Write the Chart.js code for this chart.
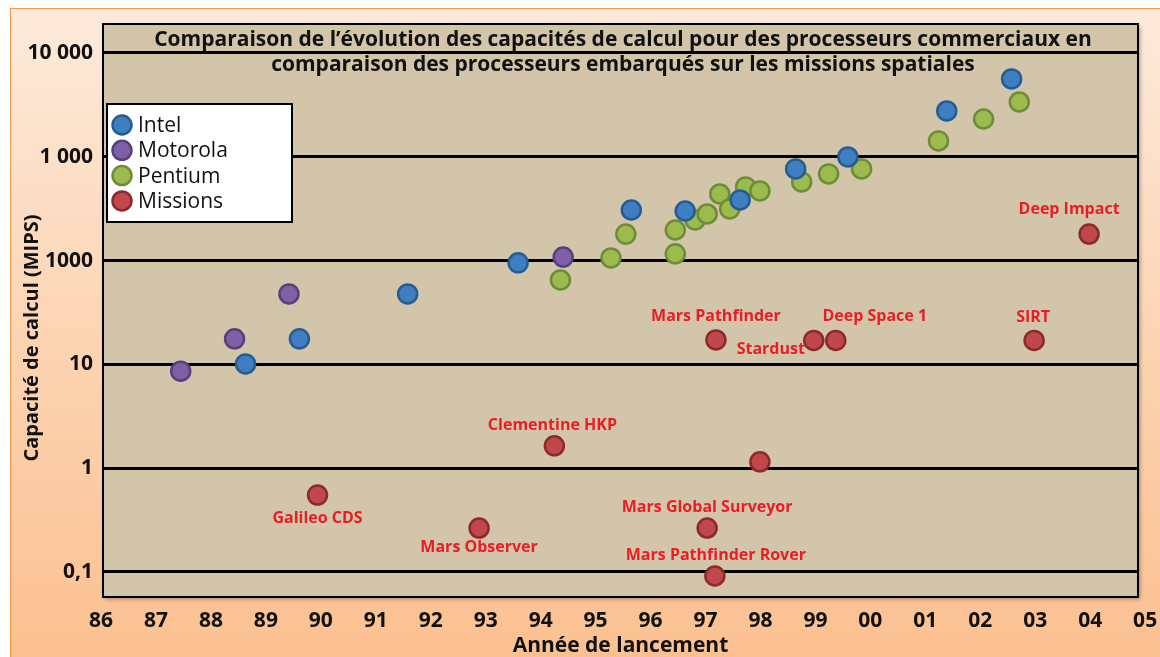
<!DOCTYPE html>
<html>
<head>
<meta charset="utf-8">
<script src="https://cdn.jsdelivr.net/npm/chart.js@4.4.0/dist/chart.umd.min.js"></script>
<style>
  html, body { margin: 0; padding: 0; background: #fff; }
  #wrap { position: relative; width: 1160px; height: 657px; overflow: hidden; }
  #frame {
    position: absolute; left: 10px; top: 8px; width: 1170px; height: 670px;
    border-left: 1.5px solid #f79646; border-top: 1.5px solid #f79646;
    background: linear-gradient(to bottom, #fdeadb 0%, #fcd6b6 45%, #fbbf8e 100%);
  }
  canvas { position: absolute; left: 0; top: 0; }
</style>
</head>
<body>
<div id="wrap">
  <div id="frame"></div>
  <canvas id="chart1" width="1160" height="657"></canvas>
</div>
<script>
// axis ticks
const yearTicks = [86, 87, 88, 89, 90, 91, 92, 93, 94, 95, 96, 97, 98, 99, 100, 101, 102, 103, 104, 105];
const yearLabels = ['86', '87', '88', '89', '90', '91', '92', '93', '94', '95', '96', '97', '98', '99', '00', '01', '02', '03', '04', '05'];
const mipsTicks = [0.1, 1, 10, 100, 1000, 10000];
const mipsLabels = ['0,1', '1', '10', '1000', '1 000', '10 000'];

// Intel
const intelYears = [88.63, 89.61, 91.58, 93.59, 95.65, 96.63, 97.63, 98.64, 99.59, 101.39, 102.57];
const intelMips = [10.1, 17.6, 47.7, 95, 307, 300, 384, 763, 995, 2760, 5620];

// Motorola
const motorolaYears = [87.45, 88.43, 89.42, 94.41];
const motorolaMips = [8.6, 17.6, 47.7, 108];

// Pentium
const pentiumYears = [94.36, 95.28, 95.55, 96.45, 96.45, 96.81, 97.03, 97.26, 97.44, 97.73, 97.99, 98.75, 99.24, 99.84, 101.24, 102.06, 102.71];
const pentiumMips = [65, 106, 180, 116, 197, 246, 281, 438, 314, 512, 469, 572, 683, 763, 1420, 2310, 3370];

// space missions
const missionYears = [89.94, 92.88, 94.25, 97.03, 97.17, 97.19, 97.99, 98.97, 99.37, 102.98, 103.98];
const missionMips = [0.55, 0.265, 1.64, 0.265, 0.0915, 17.2, 1.15, 17, 17, 17, 180];
const missionNames = ['Galileo CDS', 'Mars Observer', 'Clementine HKP', 'Mars Global Surveyor', 'Mars Pathfinder Rover',
  'Mars Pathfinder', '', 'Stardust', 'Deep Space 1', 'SIRT', 'Deep Impact'];

// where each mission name sits relative to its point
const labelOffsets = [[0, 23], [0, 19], [-2, -20], [0, -21], [1, -21], [0, -23], [0, 0], [-43, 9], [39, -24], [-1, -23], [-20, -25]];

const pts = (xs, ys) => xs.map((x, i) => ({ x: x, y: ys[i] }));

const FONT = '"Open Sans", Lato, sans-serif';
Chart.defaults.font.family = FONT;

const decor = {
  id: 'decor',
  beforeDraw(chart) {
    const { ctx, chartArea: a } = chart;
    ctx.save();
    ctx.shadowColor = 'rgba(0,0,0,0.35)';
    ctx.shadowBlur = 4;
    ctx.shadowOffsetX = 2;
    ctx.shadowOffsetY = 2;
    ctx.fillStyle = '#d3c5aa';
    ctx.fillRect(a.left, a.top, a.width, a.height);
    ctx.restore();
  },
  beforeDatasetsDraw(chart) {
    const { ctx, chartArea: a } = chart;
    ctx.save();
    ctx.lineWidth = 2;
    ctx.strokeStyle = '#000';
    ctx.strokeRect(a.left, a.top, a.width, a.height);
    ctx.restore();
  },
  afterDraw(chart) {
    const { ctx } = chart;
    ctx.save();
    // title
    ctx.fillStyle = '#111';
    ctx.textAlign = 'center';
    ctx.textBaseline = 'middle';
    ctx.font = 'bold 21px ' + FONT;
    ctx.fillText('Comparaison de l\u2019évolution des capacités de calcul pour des processeurs commerciaux en', 623, 40);
    ctx.fillText('comparaison des processeurs embarqués sur les missions spatiales', 623, 65);

    // y axis title
    ctx.save();
    ctx.translate(32, 338);
    ctx.rotate(-Math.PI / 2);
    ctx.font = 'bold 20px ' + FONT;
    ctx.fillText('Capacité de calcul (MIPS)', 0, 0);
    ctx.restore();

    // legend
    ctx.fillStyle = '#fff';
    ctx.fillRect(107, 104, 185, 118);
    ctx.lineWidth = 2;
    ctx.strokeStyle = '#000';
    ctx.strokeRect(107, 104, 185, 118);
    ctx.textAlign = 'left';
    ctx.font = '21px ' + FONT;
    chart.data.datasets.forEach((ds, i) => {
      const y = 125 + i * 25.3;
      ctx.beginPath();
      ctx.arc(122, y, 9.5, 0, Math.PI * 2);
      ctx.fillStyle = ds.backgroundColor;
      ctx.fill();
      ctx.lineWidth = 2.5;
      ctx.strokeStyle = ds.borderColor;
      ctx.stroke();
      ctx.fillStyle = '#111';
      ctx.fillText(ds.label, 138, y + 1);
    });

    // mission names
    const meta = chart.getDatasetMeta(3);
    ctx.fillStyle = '#ec1c24';
    ctx.textAlign = 'center';
    ctx.font = 'bold 16px ' + FONT;
    meta.data.forEach((p, i) => {
      if (!missionNames[i]) return;
      ctx.fillText(missionNames[i], p.x + labelOffsets[i][0], p.y + labelOffsets[i][1]);
    });
    ctx.restore();
  }
};

const mark = (label, data, fill, edge) => ({
  label: label,
  data: data,
  backgroundColor: fill,
  borderColor: edge,
  pointRadius: 9.5,
  pointHoverRadius: 9.5,
  pointBorderWidth: 2.5,
  showLine: false
});

new Chart(document.getElementById('chart1'), {
  type: 'scatter',
  data: {
    datasets: [
      mark('Intel', pts(intelYears, intelMips), '#3f7fc1', '#245c94'),
      mark('Motorola', pts(motorolaYears, motorolaMips), '#7f5fa5', '#58407c'),
      mark('Pentium', pts(pentiumYears, pentiumMips), '#9bbb4f', '#6e8c36'),
      mark('Missions', pts(missionYears, missionMips), '#c0474a', '#8b2a2c')
    ]
  },
  options: {
    responsive: false,
    animation: false,
    devicePixelRatio: 1,
    layout: { padding: { left: 0, top: 24, right: 20, bottom: 0 } },
    plugins: { legend: { display: false }, tooltip: { enabled: false } },
    scales: {
      x: {
        type: 'linear',
        min: 86.036,
        max: 104.87,
        afterBuildTicks: s => { s.ticks = yearTicks.map(v => ({ value: v })); },
        afterFit: s => { s.height = 60; },
        grid: { display: false },
        border: { display: false },
        ticks: {
          autoSkip: false,
          maxRotation: 0,
          padding: 3,
          color: '#111',
          font: { size: 21, weight: 'bold' },
          callback: v => yearLabels[yearTicks.indexOf(v)]
        },
        title: {
          display: true,
          text: 'Année de lancement',
          color: '#111',
          font: { size: 21, weight: 'bold', lineHeight: 1 },
          padding: { top: 0, bottom: 0 }
        }
      },
      y: {
        type: 'logarithmic',
        min: 0.0574,
        max: 19000,
        afterBuildTicks: s => { s.ticks = mipsTicks.map(v => ({ value: v })); },
        afterFit: s => { s.width = 103; },
        grid: { color: '#000', lineWidth: 3, drawTicks: false },
        border: { display: false },
        ticks: {
          padding: 10,
          color: '#111',
          font: { size: 21, weight: 'bold' },
          callback: v => mipsLabels[mipsTicks.indexOf(v)]
        }
      }
    }
  },
  plugins: [decor]
});
</script>
</body>
</html>
